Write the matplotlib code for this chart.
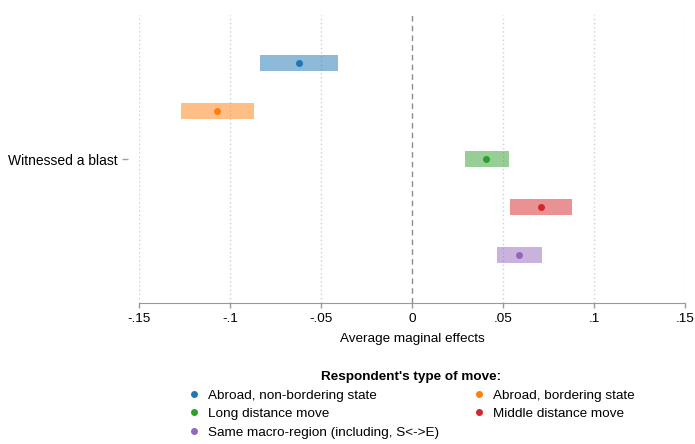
import matplotlib
matplotlib.use("Agg")
import matplotlib.pyplot as plt
from matplotlib.lines import Line2D

plt.rcParams['font.family'] = ['Liberation Sans', 'DejaVu Sans']

categories = ["Abroad, non-bordering state", "Abroad, bordering state",
              "Long distance move", "Middle distance move",
              "Same macro-region (including, S<->E)"]
estimates = [-0.0621, -0.1069, 0.0408, 0.0707, 0.0586]
ci_low = [-0.0834, -0.1269, 0.0289, 0.0537, 0.0465]
ci_high = [-0.0405, -0.0867, 0.0531, 0.0878, 0.0713]
colors = ["#1f77b4", "#ff7f0e", "#2ca02c", "#d62728", "#9467bd"]
xticks = [-0.15, -0.1, -0.05, 0, 0.05, 0.1, 0.15]
xticklabels = ["-.15", "-.1", "-.05", "0", ".05", ".1", ".15"]
ylabel_text = "Witnessed a blast"

FS = 9.7
PX = 72 / 100  # points per pixel

fig = plt.figure(figsize=(6.95, 4.44), dpi=100)
ax = fig.add_axes([139/695, 1-303/444, (685-139)/695, (303-15)/444])

ypos = [1, 2, 3, 4, 5]
for y, e, lo, hi, c in zip(ypos, estimates, ci_low, ci_high, colors):
    ax.barh(y, hi - lo, left=lo, height=0.32, color=c, alpha=0.5, linewidth=0, zorder=2)
    ax.plot([e], [y], 'o', color=c, markersize=4, zorder=3)

ax.set_xlim(-0.15, 0.15)
ax.set_ylim(6, 0)
ax.set_xticks(xticks)
ax.set_xticklabels(xticklabels, fontsize=FS)
ax.set_yticks([3])
ax.set_yticklabels([ylabel_text], fontsize=FS)

for x in xticks:
    if x != 0:
        ax.axvline(x, color="#d0d0d0", linestyle=(0, (1, 2)), linewidth=1, zorder=1)
ax.axvline(0, color="#8c8c8c", linestyle=(0, (4, 3)), linewidth=1, zorder=1)

for s in ['top', 'right']:
    ax.spines[s].set_visible(False)
ax.spines['left'].set_position(('outward', 11 * PX))
ax.spines['left'].set_visible(False)
ax.spines['bottom'].set_color("#999999")
ax.tick_params(axis='x', colors="#999999", labelcolor="black", length=5 * PX, width=1, pad=5 * PX)
ax.tick_params(axis='y', colors="#a0a0a0", labelcolor="black", length=6 * PX, width=1, pad=4 * PX)

ax.set_xlabel("Average maginal effects", fontsize=FS, labelpad=6)

handles = [Line2D([], [], marker='o', linestyle='', color=c, markersize=4) for c in colors]
order = [0, 2, 4, 1, 3]
leg = fig.legend([handles[i] for i in order], [categories[i] for i in order],
                 loc='upper center', bbox_to_anchor=(411/695, 1-359/444), ncol=2,
                 frameon=False, fontsize=FS, title="Respondent's type of move:",
                 title_fontproperties={'weight': 'bold', 'size': FS},
                 handlelength=1.0, handletextpad=0.6, columnspacing=2.4,
                 labelspacing=0.45)
leg._legend_box.align = "center"

fig.savefig("out.png", dpi=100)
